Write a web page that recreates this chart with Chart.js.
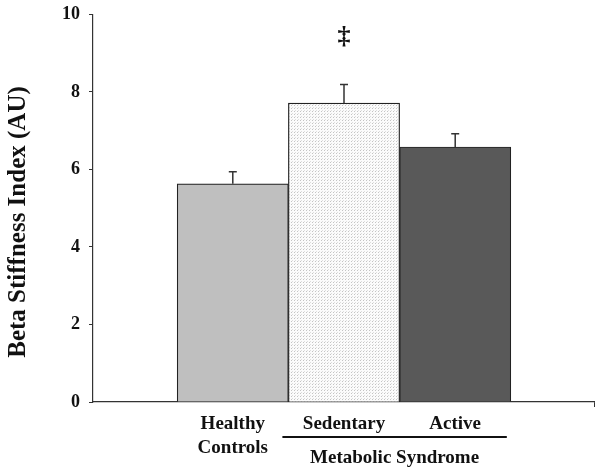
<!DOCTYPE html>
<html lang="en">
<head>
  <meta charset="UTF-8">
  <title>Beta Stiffness Index</title>
  <script src="https://cdn.jsdelivr.net/npm/chart.js"></script>
  <style>
    html, body {
      margin: 0;
      padding: 0;
      background: #ffffff;
    }
    #wrap {
      width: 604px;
      height: 476px;
    }
  </style>
</head>
<body>
  <div id="wrap"><canvas id="stiffChart"></canvas></div>

  <script>
    // data
    const groups = [['Healthy', 'Controls'], 'Sedentary', 'Active'];
    const means = [5.63, 7.71, 6.58];
    const sems = [0.31, 0.48, 0.34];
    const marks = ['', '\u2021', ''];
    const yTicks = [0, 2, 4, 6, 8, 10];
    const groupLabel = 'Metabolic Syndrome';
    const groupRange = [1, 2];

    const xMin = -1.257;
    const xMax = 3.248;
    const serif = "'Liberation Serif', 'Times New Roman', serif";

    // dotted fill for the sedentary bar
    function dotPattern() {
      const c = document.createElement('canvas');
      c.width = 3;
      c.height = 3;
      const g = c.getContext('2d');
      g.fillStyle = '#fbfbfb';
      g.fillRect(0, 0, 3, 3);
      g.fillStyle = '#c4c4c4';
      g.fillRect(0, 0, 1, 1);
      g.fillStyle = '#dedede';
      g.fillRect(1, 2, 1, 1);
      return g.createPattern(c, 'repeat');
    }

    const errorBars = {
      id: 'errorBars',
      afterDatasetsDraw(chart) {
        const c = chart.ctx;
        const y = chart.scales.y;
        const meta = chart.getDatasetMeta(0);
        c.save();
        c.strokeStyle = '#333';
        c.lineWidth = 1.5;
        meta.data.forEach((bar, i) => {
          const top = y.getPixelForValue(means[i] + sems[i]);
          c.beginPath();
          c.moveTo(bar.x, bar.y);
          c.lineTo(bar.x, top);
          c.moveTo(bar.x - 4, top);
          c.lineTo(bar.x + 4, top);
          c.stroke();
          if (marks[i]) {
            c.fillStyle = '#111';
            c.font = 'bold 26px ' + serif;
            c.textAlign = 'center';
            c.textBaseline = 'middle';
            c.fillText(marks[i], bar.x, y.getPixelForValue(9.41));
          }
        });
        c.restore();
      }
    };

    const extraText = {
      id: 'extraText',
      afterDraw(chart) {
        const c = chart.ctx;
        const x = chart.scales.x;
        const area = chart.chartArea;
        c.save();
        // y axis title
        c.fillStyle = '#111';
        c.font = 'bold 25px ' + serif;
        c.textAlign = 'center';
        c.textBaseline = 'middle';
        c.translate(19, 222);
        c.rotate(-Math.PI / 2);
        c.fillText('Beta Stiffness Index (AU)', 0, 0);
        c.restore();

        // group bracket under the category labels
        const x0 = x.getPixelForValue(groupRange[0] - 0.5) - 6;
        const x1 = x.getPixelForValue(groupRange[1] + 0.5) - 4;
        const ly = area.bottom + 35;
        c.save();
        c.strokeStyle = '#111';
        c.lineWidth = 2;
        c.beginPath();
        c.moveTo(x0, ly);
        c.lineTo(x1, ly);
        c.stroke();
        c.fillStyle = '#111';
        c.font = 'bold 19px ' + serif;
        c.textAlign = 'center';
        c.textBaseline = 'middle';
        c.fillText(groupLabel, (x0 + x1) / 2, ly + 21);
        c.restore();
      }
    };

    const ctx = document.getElementById('stiffChart').getContext('2d');
    const chart = new Chart(ctx, {
      type: 'bar',
      data: {
        datasets: [{
          data: means.map((v, i) => ({ x: i, y: v })),
          backgroundColor: ['#bfbfbf', dotPattern(), '#595959'],
          borderColor: '#222',
          borderWidth: 1.2,
          barPercentage: 1,
          categoryPercentage: 1
        }]
      },
      options: {
        responsive: true,
        maintainAspectRatio: false,
        animation: false,
        layout: {
          padding: { top: 13, right: 10, left: 0, bottom: 0 }
        },
        plugins: {
          legend: { display: false },
          tooltip: { enabled: false }
        },
        scales: {
          x: {
            type: 'linear',
            offset: false,
            min: xMin,
            max: xMax,
            afterBuildTicks(scale) {
              scale.ticks = [0, 1, 2, xMax].map(v => ({ value: v }));
            },
            afterFit(scale) {
              scale.height = 74;
            },
            border: { color: '#333', width: 1.2 },
            grid: {
              offset: false,
              drawOnChartArea: false,
              tickLength: 5,
              tickColor: c => (c.tick && c.tick.value === xMax) ? '#333' : 'rgba(0,0,0,0)'
            },
            ticks: {
              autoSkip: false,
              maxRotation: 0,
              padding: 5,
              color: '#111',
              font: { family: serif, size: 19, weight: 'bold', lineHeight: 1.25 },
              callback: v => (groups[v] !== undefined ? groups[v] : '')
            }
          },
          y: {
            min: 0,
            max: 10,
            afterBuildTicks(scale) {
              scale.ticks = yTicks.map(v => ({ value: v }));
            },
            afterFit(scale) {
              scale.width = 93;
            },
            border: { color: '#333', width: 1.2 },
            grid: {
              drawOnChartArea: false,
              tickLength: 4,
              tickColor: '#333'
            },
            ticks: {
              padding: 9,
              color: '#111',
              font: { family: serif, size: 18, weight: 'bold', lineHeight: 0.6 }
            }
          }
        }
      },
      plugins: [errorBars, extraText]
    });
  </script>
</body>
</html>
